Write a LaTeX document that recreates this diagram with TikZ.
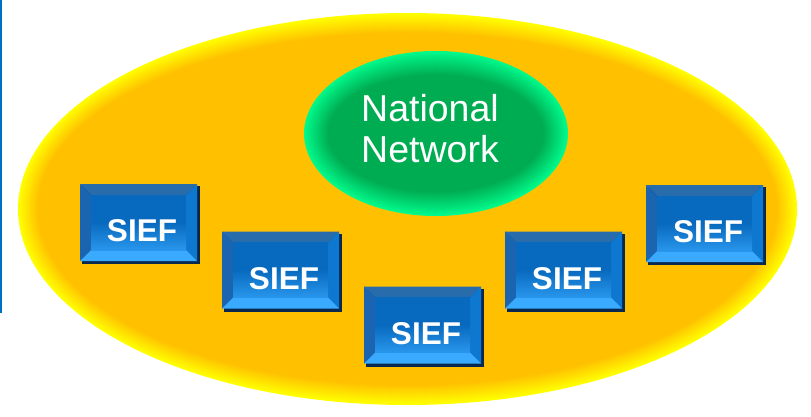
\documentclass[tikz,border=0pt]{standalone}
\usepackage{fontspec}
\setmainfont{Liberation Sans}
\definecolor{orangec}{RGB}{255,192,0}
\definecolor{glowy}{RGB}{255,255,0}
\definecolor{greencore}{RGB}{0,172,82}
\definecolor{greenrim}{RGB}{0,250,140}
\definecolor{blueline}{RGB}{0,112,192}
\definecolor{boxshadow}{RGB}{8,40,80}
\definecolor{bevtop}{RGB}{40,108,172}
\definecolor{bevleft}{RGB}{26,100,176}
\definecolor{bevright}{RGB}{14,120,208}
\definecolor{bevbot}{RGB}{58,170,255}
\definecolor{facetop}{RGB}{8,106,190}
\definecolor{facebot}{RGB}{40,150,236}
\tikzset{
  sieflabel/.style={text=white, inner sep=0pt, anchor=base,
    font=\bfseries\fontsize{31.5}{31.5}\selectfont},
  nnlabel/.style={text=white, inner sep=0pt, anchor=base,
    font=\fontsize{37.5}{40}\selectfont}
}
\newcommand{\siefbox}[3]{%
  \begin{scope}[shift={(#2,#3)}]
    \fill[boxshadow] (-58,-38) rectangle (60,40);
    \fill[bevtop] (-60,-40) -- (57,-40) -- (46,-29) -- (-49,-29) -- cycle;
    \fill[bevleft] (-60,-40) -- (-49,-29) -- (-49,26) -- (-60,37) -- cycle;
    \fill[bevright] (57,-40) -- (57,37) -- (46,26) -- (46,-29) -- cycle;
    \fill[bevbot] (-60,37) -- (57,37) -- (46,26) -- (-49,26) -- cycle;
    \shade[top color=facetop, bottom color=facebot, middle color=facetop] (-49,-29) rectangle (46,26);
  \end{scope}
  \node[sieflabel] (#1) at ({#2+2},{#3+17.5}) {SIEF};
}
\begin{document}
\begin{tikzpicture}[x=1pt,y=-1pt]
\useasboundingbox (0,0) rectangle (811,417);
% left blue line
\fill[blueline] (0,0) rectangle (2,313);
% big glowing ellipse
\foreach \i [evaluate=\i as \p using {100-\i*100/20}] in {0,...,20}
  \fill[glowy!\p!orangec] (407.5,209) ellipse ({389.5-\i} and {196-\i});
\coordinate (big) at (407.5,209);
% green ellipse
\foreach \i [evaluate=\i as \p using {100-\i*100/24}] in {0,...,24}
  \fill[greenrim!\p!greencore] (436,133.5) ellipse ({132-\i} and {82.5-\i});
\coordinate (nn) at (436,133.5);
\node[nnlabel] (nat) at (430,121.7) {National};
\node[nnlabel] (net) at (430,163) {Network};
% SIEF boxes
\siefbox{s1}{140}{224}
\siefbox{s2}{282}{271.5}
\siefbox{s3}{424}{326.5}
\siefbox{s4}{565}{271.5}
\siefbox{s5}{706}{225}
\end{tikzpicture}
\end{document}
